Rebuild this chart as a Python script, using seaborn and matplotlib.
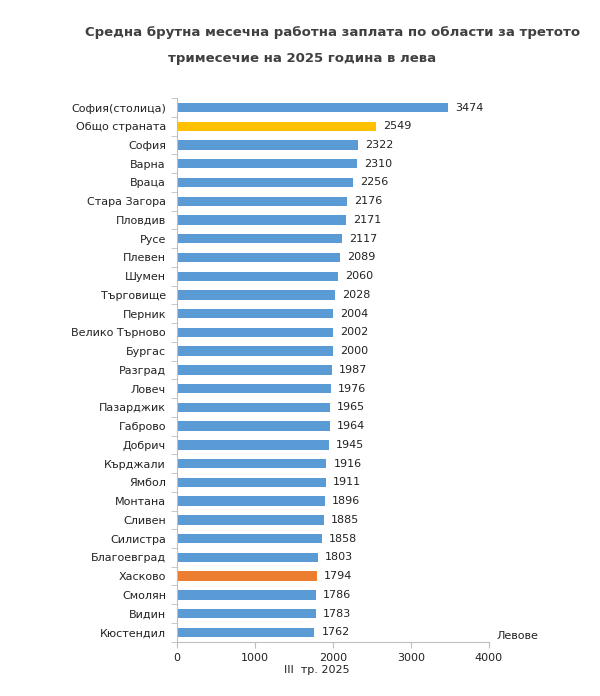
import matplotlib.pyplot as plt
import seaborn as sns
import pandas as pd

regions = ['София(столица)', 'Общо страната', 'София', 'Варна', 'Враца', 'Стара Загора',
           'Пловдив', 'Русе', 'Плевен', 'Шумен', 'Търговище', 'Перник', 'Велико Търново',
           'Бургас', 'Разград', 'Ловеч', 'Пазарджик', 'Габрово', 'Добрич', 'Кърджали',
           'Ямбол', 'Монтана', 'Сливен', 'Силистра', 'Благоевград', 'Хасково', 'Смолян',
           'Видин', 'Кюстендил']
salary = [3474, 2549, 2322, 2310, 2256, 2176, 2171, 2117, 2089, 2060, 2028, 2004, 2002,
          2000, 1987, 1976, 1965, 1964, 1945, 1916, 1911, 1896, 1885, 1858, 1803, 1794,
          1786, 1783, 1762]
x_ticks = [0, 1000, 2000, 3000, 4000]

BLUE, YELLOW, ORANGE = '#5B9BD5', '#FFC000', '#ED7D31'
colors = [YELLOW if r == 'Общо страната' else ORANGE if r == 'Хасково' else BLUE for r in regions]

df = pd.DataFrame({'region': regions, 'salary': salary})

sns.set_style('white')
plt.rcParams['font.family'] = ['DejaVu Sans']

fig = plt.figure(figsize=(6, 6.96), dpi=100)
ax = fig.add_axes([0.295, 0.078, 0.52, 0.781])

sns.barplot(data=df, y='region', x='salary', hue='region', palette=colors,
            legend=False, width=0.5, saturation=1, linewidth=0, ax=ax, orient='h')

for i, v in enumerate(salary):
    ax.text(v + 90, i, str(v), va='center', ha='left', fontsize=8, color='#222222')

ax.set_xlim(0, 4000)
ax.set_xticks(x_ticks)
ax.set_xticklabels([str(t) for t in x_ticks], fontsize=8, color='#222222')
ax.set_ylim(len(regions) - 0.5, -0.5)
ax.set_yticks(range(len(regions)))
ax.set_yticklabels(regions, fontsize=8, color='#222222')
ax.set_xlabel('')
ax.set_ylabel('')

for s in ['top', 'right']:
    ax.spines[s].set_visible(False)
for s in ['left', 'bottom']:
    ax.spines[s].set_color('#BFBFBF')
    ax.spines[s].set_linewidth(0.8)
ax.tick_params(axis='x', length=4, color='#BFBFBF', bottom=True, pad=4)
ax.tick_params(axis='y', length=0, pad=8)
# category boundary ticks on the y axis
ax.set_yticks([i + 0.5 for i in range(-1, len(regions))], minor=True)
ax.tick_params(axis='y', which='minor', length=4, color='#BFBFBF', left=True)

fig.text(0.555, 0.953, 'Средна брутна месечна работна заплата по области за третото',
         ha='center', va='center', fontsize=9.5, fontweight='bold', color='#404040')
fig.text(0.503, 0.916, 'тримесечие на 2025 година в лева',
         ha='center', va='center', fontsize=9.5, fontweight='bold', color='#404040')
fig.text(0.828, 0.086, 'Левове', ha='left', va='center', fontsize=8, color='#222222')
fig.text(0.528, 0.037, 'III  тр. 2025', ha='center', va='center', fontsize=8, color='#222222')

fig.savefig('out.png', dpi=100)
